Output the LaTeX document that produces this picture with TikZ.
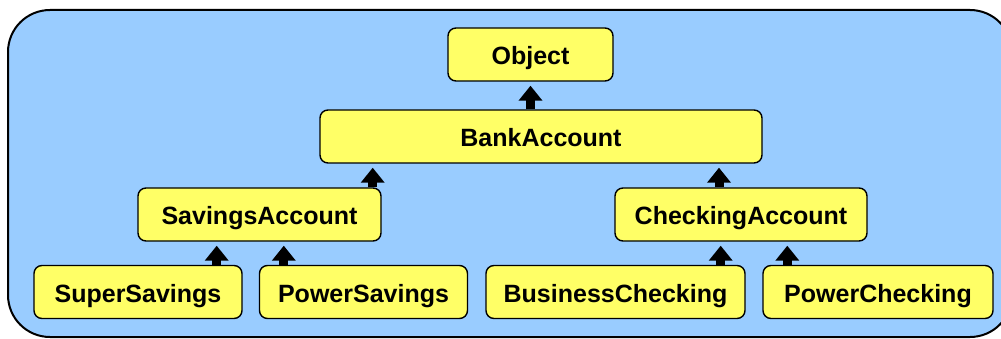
\documentclass[tikz,border=0pt]{standalone}
\usepackage{fontspec}
\setmainfont{Liberation Sans}
\usetikzlibrary{arrows.meta}
\definecolor{panelblue}{HTML}{99CCFF}
\definecolor{classyellow}{HTML}{FFFF66}

\begin{document}
\begin{tikzpicture}[
  x=1pt, y=-1pt,
  box/.style={rectangle, rounded corners=8pt, draw, line width=1.4pt, fill=classyellow,
    minimum height=53pt, inner sep=0pt, text height=21pt, text depth=0pt,
    font=\fontsize{25}{30}\selectfont\bfseries},
  arrow/.style={-{Triangle[width=23pt, length=15pt]}, line width=9pt, shorten >=4pt}
]

  \useasboundingbox (0,0) rectangle (1001,339);

  % Background panel
  \draw[fill=panelblue, line width=2pt, rounded corners=42pt] (8,10) rectangle (1012,337);

  % Top of the hierarchy
  \node[box, minimum width=165pt] (obj) at (530.5,54.5) {Object};
  \node[box, minimum width=442pt] (bank) at (541,136.5) {BankAccount};

  % Account types
  \node[box, minimum width=243pt] (sav) at (259.5,214.5) {SavingsAccount};
  \node[box, minimum width=252pt] (chk) at (741,214.5) {CheckingAccount};

  % Concrete accounts
  \node[box, minimum width=208pt] (super) at (138,292) {SuperSavings};
  \node[box, minimum width=208pt] (psav) at (363.5,292) {PowerSavings};
  \node[box, minimum width=259pt] (bus) at (615.5,292) {BusinessChecking};
  \node[box, minimum width=230pt] (pchk) at (878,292) {PowerChecking};

  % Arrows showing inheritance
  \draw[arrow] (bank.north -| obj.south) -- (obj.south);
  \draw[arrow] ([xshift=-9pt]sav.north east) -- ([xshift=-9pt]sav.north east |- bank.south);
  \draw[arrow] ([xshift=-22pt]chk.north) -- ([xshift=-22pt]chk.north |- bank.south);
  \draw[arrow] ([xshift=-26pt]super.north east) -- ([xshift=-26pt]super.north east |- sav.south);
  \draw[arrow] ([xshift=25pt]psav.north west) -- ([xshift=25pt]psav.north west |- sav.south);
  \draw[arrow] ([xshift=-25pt]bus.north east) -- ([xshift=-25pt]bus.north east |- chk.south);
  \draw[arrow] ([xshift=25pt]pchk.north west) -- ([xshift=25pt]pchk.north west |- chk.south);

\end{tikzpicture}
\end{document}
